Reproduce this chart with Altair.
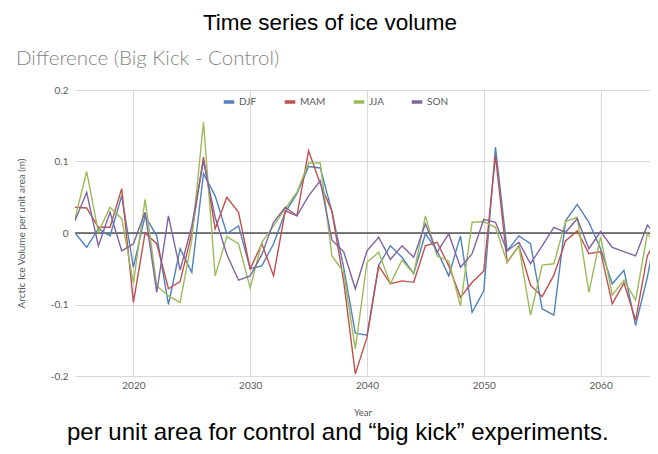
import altair as alt
import pandas as pd

years = list(range(2015, 2066))
seasons = ["DJF", "MAM", "JJA", "SON"]
colors = ["#4F81BD", "#C0504D", "#9BBB59", "#8064A2"]

djf = [0.0, -0.02, 0.006, -0.004, 0.052, -0.048, 0.024, -0.004, -0.1, -0.022,
       -0.055, 0.083, 0.052, -0.001, 0.01, -0.05, -0.046, -0.015, 0.029, 0.055,
       0.093, 0.091, 0.03, -0.048, -0.14, -0.143, -0.045, -0.018, -0.034, -0.057,
       -0.001, -0.025, -0.06, -0.004, -0.111, -0.081, 0.12, -0.025, -0.004, -0.015,
       -0.106, -0.115, 0.017, 0.04, 0.015, -0.022, -0.071, -0.052, -0.129, -0.062,
       0.022]
mam = [0.036, 0.035, 0.008, 0.008, 0.062, -0.097, 0.0, -0.015, -0.078, -0.068,
       0.0, 0.106, 0.006, 0.05, 0.029, -0.05, -0.015, -0.06, 0.031, 0.024,
       0.115, 0.069, 0.03, -0.067, -0.197, -0.146, -0.046, -0.071, -0.067, -0.069,
       -0.018, -0.013, -0.046, -0.09, -0.069, -0.053, 0.108, -0.041, -0.018, -0.073,
       -0.089, -0.059, -0.011, 0.003, -0.029, -0.026, -0.099, -0.07, -0.122, -0.032,
       -0.001]
jja = [0.02, 0.086, 0.001, 0.036, 0.02, -0.07, 0.047, -0.074, -0.088, -0.097,
       -0.01, 0.155, -0.06, -0.005, -0.015, -0.077, -0.013, 0.01, 0.034, 0.057,
       0.098, 0.098, -0.032, -0.055, -0.162, -0.041, -0.027, -0.071, -0.038, -0.057,
       0.024, -0.032, -0.039, -0.102, 0.015, 0.016, 0.008, -0.041, -0.018, -0.115,
       -0.045, -0.043, 0.016, 0.022, -0.083, -0.005, -0.087, -0.066, -0.094, -0.001,
       -0.02]
son = [0.017, 0.057, -0.018, 0.029, -0.025, -0.015, 0.029, -0.083, 0.024, -0.052,
       0.01, 0.101, 0.022, -0.03, -0.066, -0.06, -0.03, 0.015, 0.036, 0.024,
       0.052, 0.073, -0.01, -0.026, -0.078, -0.025, -0.006, -0.037, -0.018, -0.034,
       0.013, -0.027, -0.001, -0.048, -0.029, 0.019, 0.015, -0.025, -0.013, -0.043,
       -0.018, 0.008, 0.001, 0.02, -0.022, 0.002, -0.02, -0.026, -0.032, 0.011,
       -0.006]

x_ticks = [2020, 2030, 2040, 2050, 2060]
y_ticks = [-0.2, -0.1, 0, 0.1, 0.2]

title_text = "Time series of ice volume"
subtitle_text = "Difference (Big Kick - Control)"
caption_text = "per unit area for control and \u201cbig kick\u201d experiments."
y_title = "Arctic Ice Volume per unit area (m)"
x_title = "Year"

rows = []
for s, vals in zip(seasons, [djf, mam, jja, son]):
    for yr, v in zip(years, vals):
        rows.append({"Year": yr, "Season": s, "Value": v})
df = pd.DataFrame(rows)

W, H = 575, 286
label_color = "#595959"
axis_font = "Lato"

xs = alt.Scale(domain=[2015, 2064.23], nice=False, zero=False)
ys = alt.Scale(domain=[-0.2, 0.2], nice=False, zero=False)

lines = alt.Chart(df).mark_line(strokeWidth=1.4, clip=True).encode(
    x=alt.X("Year:Q", scale=xs,
            axis=alt.Axis(values=x_ticks, format="d", title=x_title, grid=True,
                          gridColor="#d9d9d9", domain=False, ticks=False,
                          labelFont=axis_font, labelFontSize=10, labelColor=label_color,
                          labelPadding=4, titleFont=axis_font, titleFontSize=9.5,
                          titleFontWeight="normal", titleColor=label_color,
                          titlePadding=17)),
    y=alt.Y("Value:Q", scale=ys,
            axis=alt.Axis(values=y_ticks, labelExpr="'' + datum.value", title=y_title,
                          grid=True, gridColor="#d9d9d9", domain=False, ticks=False,
                          labelFont=axis_font, labelFontSize=10, labelColor=label_color,
                          labelPadding=7, titleFont=axis_font, titleFontSize=10,
                          titleFontWeight="normal", titleColor=label_color,
                          titlePadding=24)),
    color=alt.Color("Season:N", scale=alt.Scale(domain=seasons, range=colors),
                    sort=seasons,
                    legend=alt.Legend(orient="none", legendX=147, legendY=5,
                                      direction="horizontal", title=None,
                                      symbolType="stroke", symbolStrokeWidth=3.5,
                                      symbolSize=110, labelFont=axis_font,
                                      labelFontSize=10, labelColor=label_color,
                                      columnPadding=20, labelOffset=3)),
    detail="Season:N",
)

zero = alt.Chart(pd.DataFrame({"v": [0]})).mark_rule(color="black", strokeWidth=1.2).encode(
    y=alt.Y("v:Q", scale=ys)
)

def label(text, x, y, size, color, font, align="left", weight="normal"):
    return alt.Chart(pd.DataFrame({"t": [text]})).mark_text(
        align=align, baseline="alphabetic", fontSize=size, color=color,
        font=font, fontWeight=weight
    ).encode(text="t:N", x=alt.value(x), y=alt.value(y))

title = label(title_text, 255, -60, 22.5, "black", "Liberation Sans", align="center")
subtitle = label(subtitle_text, -59, -25, 20.5, "#858585", axis_font, weight=300)
caption = label(caption_text, -8, 350, 24, "black", "Liberation Sans")

chart = alt.layer(zero, lines, title, subtitle, caption).properties(
    width=W, height=H,
    autosize=alt.AutoSizeParams(type="none"),
    padding={"left": 67, "top": 82, "right": 0, "bottom": 70},
).configure_view(stroke=None)

chart.save("out.html", embed_options={"renderer": "svg", "actions": False})
